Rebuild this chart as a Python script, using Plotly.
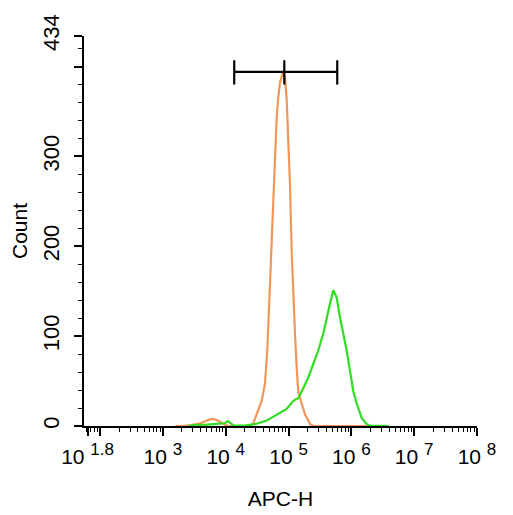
import plotly.graph_objects as go

# ---- data ----
orange_log = [3.2, 3.3, 3.45, 3.6, 3.7, 3.78, 3.85, 3.92, 4.0, 4.05, 4.3, 4.40, 4.433, 4.492, 4.572,
              4.624, 4.661, 4.704, 4.747, 4.772, 4.811, 4.836, 4.863, 4.906, 4.943, 4.970,
              4.995, 5.022, 5.049, 5.075, 5.102, 5.129, 5.154, 5.209, 5.261, 5.314, 5.341,
              5.4, 6.5]
orange_count = [0, 0, 1, 3, 6, 8, 7, 4, 1, 0, 0, 1, 2, 13, 28,
                47, 84, 158, 232, 288, 344, 366, 382, 393, 388, 363,
                326, 270, 195, 140, 103, 65, 39, 25, 13, 6, 2,
                0, 0]

green_log = [3.4, 3.5, 3.7, 3.9, 3.98, 4.03, 4.08, 4.13, 4.3, 4.465, 4.651, 4.811, 4.970,
             5.075, 5.154, 5.234, 5.314, 5.393, 5.473, 5.553, 5.607, 5.659, 5.712, 5.766,
             5.818, 5.871, 5.925, 5.978, 6.030, 6.084, 6.164, 6.244, 6.3, 6.6]
green_count = [0, 1, 1.5, 2, 3, 5.5, 3, 0.5, 0.5, 2, 6, 13, 19,
               28, 31, 42, 54, 69, 84, 103, 121, 136, 151, 143,
               121, 103, 84, 61, 39, 25, 9, 2, 0.5, 0]

gate_log = [4.135, 4.932, 5.775]   # left, middle, right of the gate marker
gate_level = 394
gate_tick_low, gate_tick_high = 380, 407

x_tick_exp = [1.8, 2, 3, 4, 5, 6, 7, 8]
x_tick_pow = ["1.8", "", "3", "4", "5", "6", "7", "8"]
y_tick_vals = [0, 100, 200, 300, 400, 434]
y_tick_text = ["0", "100", "200", "300", "", "434"]

x_tick_text = [f'10 <sup><span style="font-size:17px">{p}</span></sup>' if p else ""
               for p in x_tick_pow]

# ---- figure ----
fig = go.Figure()
fig.add_trace(go.Scatter(x=[10 ** v for v in orange_log], y=orange_count, mode="lines",
                         line=dict(color="#F0965A", width=2.2), showlegend=False))
fig.add_trace(go.Scatter(x=[10 ** v for v in green_log], y=green_count, mode="lines",
                         line=dict(color="#2FDD22", width=2.2), showlegend=False))

gx = [10 ** v for v in gate_log]
bx, by = [gx[0], gx[2], None], [gate_level, gate_level, None]
for v in gx:
    bx += [v, v, None]
    by += [gate_tick_low, gate_tick_high, None]
fig.add_trace(go.Scatter(x=bx, y=by, mode="lines", line=dict(color="black", width=2.2),
                         showlegend=False))

minor_vals = [k * 10 ** d for d in range(1, 8) for k in range(2, 10)]

fam = "Liberation Sans, Arial, sans-serif"
xtick_font = dict(family=fam, size=21, color="black")
ytick_font = dict(family=fam, size=22, color="black")
title_font = dict(family=fam, size=21, color="black")
# the page body has an 8px default margin, so the plot margins compensate for it
fig.update_layout(
    width=513, height=515,
    margin=dict(l=76, r=44, t=28, b=97),
    plot_bgcolor="white", paper_bgcolor="white",
    font=dict(family=fam, size=21, color="black"),
    xaxis=dict(type="log", range=[1.743, 8], showgrid=False, zeroline=False, automargin=False,
               showline=True, linecolor="black", linewidth=2,
               tickmode="array", tickvals=[10 ** e for e in x_tick_exp], ticktext=x_tick_text,
               tickfont=xtick_font, ticklabelstandoff=3,
               ticks="outside", ticklen=8, tickwidth=2, tickcolor="black",
               minor=dict(tickvals=minor_vals, ticks="outside", ticklen=4, tickwidth=1,
                          tickcolor="black", showgrid=False),
               title=dict(text="APC-H", standoff=24, font=title_font)),
    yaxis=dict(range=[0, 434], showgrid=False, zeroline=False, automargin=False,
               showline=True, linecolor="black", linewidth=2,
               tickmode="array", tickvals=y_tick_vals, ticktext=y_tick_text, tickangle=-90,
               tickfont=ytick_font, ticklabelstandoff=6,
               ticks="outside", ticklen=8, tickwidth=2, tickcolor="black",
               minor=dict(dtick=20, ticks="outside", ticklen=4, tickwidth=1,
                          tickcolor="black", showgrid=False),
               title=dict(text="Count", standoff=13, font=title_font)),
)

fig.write_html("out.html")
